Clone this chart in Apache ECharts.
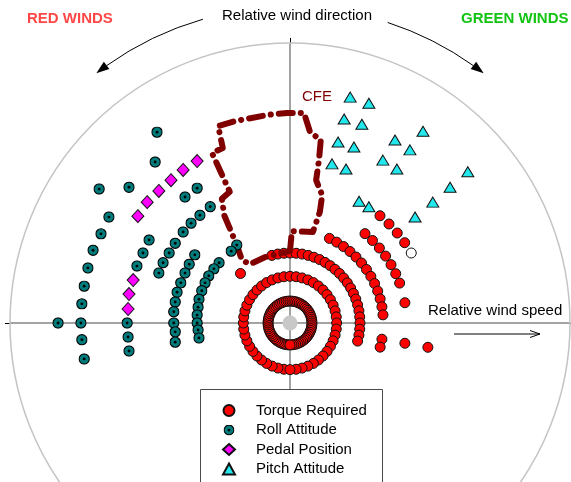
<!DOCTYPE html>
<html>
<head>
<meta charset="utf-8">
<script src="https://cdn.jsdelivr.net/npm/echarts@6/dist/echarts.min.js"></script>
<style>
  html, body { margin: 0; padding: 0; background: #fff; }
  #chart { width: 571px; height: 482px; }
</style>
</head>
<body>
<div id="chart"></div>
<script>
// ---- Wind envelope test data (speed in kt, relative direction in deg, 0 = nose, clockwise) ----

// Torque Required: rings of constant wind speed, listed by direction
const torqueSpeeds = [4.7, 10, 15, 20, 25, 30];
const torqueDirs4_7 = [185,190,195,200,205,210,215,220,225,230,235,240,245,250,255,260,265,270,275,280,285,290,295,300,305,310,315,320,325,330,335,340,345,350,355,0,5,10,15,20,25,30,35,40,45,50,55,60,65,70,75,80,85,90,95,100,105,110,115,120,125,130,135,140,145,150,155,160,165,170,175,180];
const torqueDirs10 = [187.5,195,202.5,210,217.5,225,232.5,240,247.5,255,262.5,270,277.5,285,292.5,300,307.5,315,322.5,330,337.5,345,352.5,0,7.5,15,22.5,30,37.5,45,52.5,60,67.5,75,82.5,90,97.5,105,112.5,120,127.5,135,142.5,150,157.5,165,172.5,180];
const torqueDirs15 = [315,345,350,355,0,5,10,15,20,25,30,35,40,45,50,55,60,65,70,75,80,85,90,95,100,105];
const torqueDirs20 = [25,30,35,40,45,50,55,60,65,70,75,80,85,100,105];
const torqueDirs25 = [40,45,50,55,60,65,70,80,100];
const torqueDirs30 = [40,45,50,55,100];
// point not completed (open marker): [speed, direction]
const torqueOpen = [[30, 60]];

// Roll Attitude: [lateral kt, longitudinal kt]
const rollAttitude = [
  [-28.5,40.9],[-28.9,34.5],[-40.9,28.7],[-34.5,29.1],[-38.8,22.7],[-40.5,19.1],[-42.2,15.6],
  [-43.3,11.8],[-44.1,7.9],[-44.6,4.1],[-44.8,0],[-44.6,-3.6],[-44.1,-7.7],[-49.7,0],
  [-30.2,17.8],[-31.5,15.0],[-32.8,12.2],[-34.9,0],[-34.7,-3.0],[-34.5,-6.0],
  [-19.9,28.9],[-22.5,27.0],[-17.1,24.9],[-19.3,23.1],[-21.2,21.4],[-22.9,19.5],[-24.6,17.1],
  [-25.9,15.0],[-27.2,12.9],[-28.1,10.7],
  [-20.4,14.6],[-21.6,12.6],[-22.5,10.7],[-23.4,8.6],[-24.2,6.6],[-24.6,4.5],[-24.9,2.4],
  [-24.9,0],[-24.6,-1.9],[-24.6,-4.1],
  [-15.2,12.9],[-16.3,11.6],[-17.4,10.1],[-18.2,8.6],[-18.9,6.9],[-19.5,5.1],[-19.7,3.4],
  [-19.9,1.7],[-19.9,0],[-19.7,-1.5],[-19.5,-3.2],
  [-11.4,16.7],[-12.6,15.4]
];

// Pedal Position: [lateral kt, longitudinal kt]
const pedalPosition = [
  [-19.9,34.7],[-22.9,32.8],[-25.5,30.6],[-28.1,28.3],[-30.6,25.9],[-32.6,22.9],
  [-33.6,9.2],[-34.5,6.2],[-34.7,3.0]
];

// Pitch Attitude: [lateral kt, longitudinal kt]
const pitchAttitude = [
  [12.9,48.4],[16.9,47.1],[11.6,43.7],[15.4,42.6],[28.5,41.1],[10.3,38.8],[13.7,37.7],
  [22.5,39.2],[25.7,37.1],[19.9,34.9],[9.0,34.1],[12.0,33.0],[22.9,33.0],[38.1,32.4],
  [34.3,29.1],[30.6,25.9],[14.8,26.1],[16.9,24.9],[26.8,22.7]
];

// Cleared flight envelope boundary: [lateral kt, longitudinal kt]
const cfeBoundary = [
  [0,15.4],[0.4,19.7],[4.9,19.5],[6.4,23.8],[6.9,27.4],[5.6,30.6],[6.2,34.9],[6.6,39.2],
  [4.3,40.9],[3.0,45.0],[-0.6,45.0],[-4.7,44.6],[-11.6,43.3],[-15.4,42.2],[-14.4,37.5],
  [-16.7,36.4],[-12.9,28.1],[-14.6,26.6],[-14.1,23.1],[-11.4,16.7],[-10.3,13.5],[-8.6,12.6],
  [-5.4,14.1],[0,15.4]
];

const legendNames = ['Torque Required', 'Roll Attitude', 'Pedal Position', 'Pitch Attitude'];

// ---- layout ----
const CX = 290, CY = 323;         // origin of the wind plot (pixels)
const R = 280;                    // outer circle radius (pixels)
const MAX_KT = 60;                // outer circle speed
const K = R / MAX_KT;             // pixels per knot
const AX = 61;                    // half-range of the crossing axes (kt)
const FONT = '"Liberation Sans", Arial, sans-serif';

const torqueData = []
  .concat(torqueDirs4_7.map(d => [torqueSpeeds[0], d]))
  .concat(torqueDirs10.map(d => [torqueSpeeds[1], d]))
  .concat(torqueDirs15.map(d => [torqueSpeeds[2], d]))
  .concat(torqueDirs20.map(d => [torqueSpeeds[3], d]))
  .concat(torqueDirs25.map(d => [torqueSpeeds[4], d]))
  .concat(torqueDirs30.map(d => [torqueSpeeds[5], d]))
  .concat(torqueOpen.map(p => ({ value: p, itemStyle: { color: '#ffffff' } })));

const rollIcon = 'image://data:image/svg+xml;charset=utf-8,' + encodeURIComponent(
  "<svg xmlns='http://www.w3.org/2000/svg' width='24' height='24' viewBox='0 0 24 24'>" +
  "<circle cx='12' cy='12' r='10.7' fill='#007b7b' stroke='#000' stroke-width='2.4'/>" +
  "<circle cx='12' cy='12' r='3' fill='#000'/></svg>");

// curved direction arrows around the plot
function dirPoint(thetaDeg, r) {
  const t = thetaDeg * Math.PI / 180;
  return [CX + r * Math.sin(t), CY - r * Math.cos(t)];
}
function arrowHead(tipDeg, r, sign, len, width) {
  const t = tipDeg * Math.PI / 180;
  const tip = dirPoint(tipDeg, r);
  const tx = sign * Math.cos(t), ty = sign * Math.sin(t);
  const nx = Math.sin(t), ny = -Math.cos(t);
  const bx = tip[0] - len * tx, by = tip[1] - len * ty;
  return [tip, [bx + nx * width / 2, by + ny * width / 2], [bx - nx * width / 2, by - ny * width / 2]];
}
function canvasAngle(thetaDeg) { return (thetaDeg - 90) * Math.PI / 180; }
const ARC_R = 316;

const graphics = [
  { type: 'arc', silent: true, shape: { cx: CX, cy: CY, r: ARC_R, startAngle: canvasAngle(-35.5), endAngle: canvasAngle(-16), clockwise: true },
    style: { stroke: '#000', lineWidth: 1, fill: 'none' }, z: 10 },
  { type: 'polygon', silent: true, shape: { points: arrowHead(-37.8, ARC_R, -1, 13, 9) }, style: { fill: '#000' }, z: 10 },
  { type: 'arc', silent: true, shape: { cx: CX, cy: CY, r: ARC_R, startAngle: canvasAngle(18), endAngle: canvasAngle(35.5), clockwise: true },
    style: { stroke: '#000', lineWidth: 1, fill: 'none' }, z: 10 },
  { type: 'polygon', silent: true, shape: { points: arrowHead(37.8, ARC_R, 1, 13, 9) }, style: { fill: '#000' }, z: 10 },
  { type: 'text', silent: true, x: 297, y: 16, style: { text: 'Relative wind direction', font: '15px ' + FONT, fill: '#000', align: 'center', verticalAlign: 'middle' }, z: 10 },
  { type: 'text', silent: true, x: 27, y: 19, style: { text: 'RED WINDS', font: 'bold 15px ' + FONT, fill: '#ff4747', align: 'left', verticalAlign: 'middle' }, z: 10 },
  { type: 'text', silent: true, x: 461, y: 19, style: { text: 'GREEN WINDS', font: 'bold 15px ' + FONT, fill: '#12c412', align: 'left', verticalAlign: 'middle' }, z: 10 },
  { type: 'text', silent: true, x: 302, y: 97, style: { text: 'CFE', font: '15px ' + FONT, fill: '#800000', align: 'left', verticalAlign: 'middle' }, z: 10 },
  { type: 'text', silent: true, x: 428, y: 311, style: { text: 'Relative wind speed', font: '15px ' + FONT, fill: '#000', align: 'left', verticalAlign: 'middle' }, z: 10 },
  { type: 'line', silent: true, shape: { x1: 454, y1: 334, x2: 540, y2: 334 }, style: { stroke: '#000', lineWidth: 1 }, z: 10 },
  { type: 'polyline', silent: true, shape: { points: [[530, 330.5], [540, 334], [530, 337.5]] }, style: { stroke: '#000', lineWidth: 1, fill: 'none' }, z: 10 },
  // legend frame
  { type: 'rect', silent: true, shape: { x: 200.5, y: 389.5, width: 182, height: 120 },
    style: { fill: '#ffffff', stroke: '#4a4a4a', lineWidth: 1 }, z: 5 }
];

const chart = echarts.init(document.getElementById('chart'), null, { renderer: 'canvas' });

chart.setOption({
  backgroundColor: '#ffffff',
  animation: false,
  textStyle: { fontFamily: FONT },
  grid: {
    left: CX - AX * K, top: CY - AX * K, width: 2 * AX * K, height: 2 * AX * K,
    outerBoundsMode: 'none', containLabel: false
  },
  xAxis: {
    type: 'value', min: -AX, max: AX,
    axisLine: { onZero: true, lineStyle: { color: '#000', width: 1 } },
    axisTick: { show: false }, axisLabel: { show: false }, splitLine: { show: false }
  },
  yAxis: {
    type: 'value', min: -AX, max: AX,
    axisLine: { onZero: true, lineStyle: { color: '#000', width: 1 } },
    axisTick: { show: false }, axisLabel: { show: false }, splitLine: { show: false }
  },
  polar: { center: [CX, CY], radius: R },
  angleAxis: {
    type: 'value', min: 0, max: 360, interval: 90, startAngle: 90, clockwise: true, z: 1,
    axisLine: { show: true, lineStyle: { color: '#c4c4c4', width: 1.5 } },
    axisTick: { show: false }, axisLabel: { show: false },
    splitLine: { show: true, lineStyle: { color: '#a3a3a3', width: 2 } }
  },
  radiusAxis: {
    type: 'value', min: 0, max: MAX_KT,
    axisLine: { show: false }, axisTick: { show: false }, axisLabel: { show: false }, splitLine: { show: false }
  },
  legend: {
    data: legendNames, orient: 'vertical', left: 222, top: 403, height: 100,
    itemWidth: 12, itemHeight: 11, itemGap: 4.5,
    padding: 0, z: 10,
    selectedMode: false,
    textStyle: { fontSize: 15, color: '#000', fontFamily: FONT, padding: [0, 0, 0, 16] }
  },
  series: [
    {
      name: 'Torque Required', type: 'scatter', coordinateSystem: 'polar',
      symbol: 'circle', symbolSize: 10,
      itemStyle: { color: '#ff0000', borderColor: '#111', borderWidth: 1, opacity: 1 },
      data: torqueData, z: 2
    },
    {
      name: 'CFE', type: 'line', coordinateSystem: 'cartesian2d',
      symbol: 'none', silent: true,
      lineStyle: { color: '#800000', width: 6, type: [14, 8, 0.1, 8], cap: 'round', join: 'round' },
      data: cfeBoundary, z: 3
    },
    {
      name: 'Roll Attitude', type: 'scatter', symbol: rollIcon, symbolSize: 11.5,
      itemStyle: { color: '#007b7b', opacity: 1 }, data: rollAttitude, z: 4
    },
    {
      name: 'Pedal Position', type: 'scatter', symbol: 'diamond', symbolSize: [12, 13],
      itemStyle: { color: '#ff00ff', borderColor: '#111', borderWidth: 1, opacity: 1 },
      data: pedalPosition, z: 4
    },
    {
      name: 'Pitch Attitude', type: 'scatter', symbol: 'triangle', symbolSize: [12, 10],
      itemStyle: { color: '#22e8ee', borderColor: '#111', borderWidth: 1, opacity: 1 },
      data: pitchAttitude, z: 4
    },
    {
      name: 'hub', type: 'scatter', symbol: 'circle', symbolSize: 15, silent: true,
      itemStyle: { color: '#c8c8c8', opacity: 1 }, data: [[0, 0]], z: 2
    }
  ],
  graphic: graphics
});
</script>
</body>
</html>
